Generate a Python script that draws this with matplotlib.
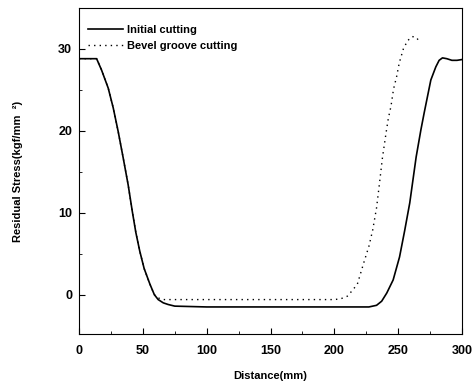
import matplotlib
matplotlib.use('Agg')
import matplotlib.pyplot as plt
from matplotlib.ticker import MultipleLocator

plt.rcParams['font.family'] = ['Liberation Sans', 'DejaVu Sans']
plt.rcParams['font.weight'] = 'bold'

# Initial cutting (solid)
init_x = [0, 5, 10, 13.8, 17.7, 22.9, 26.8, 30.7, 34.6, 38.5, 41.7, 44.5,
          47.6, 51, 55.5, 59, 62, 66, 69.8, 75, 100, 150, 200, 220, 227, 233,
          237, 241, 246, 251, 255, 259, 264, 267.7, 270.3, 272.9, 275.5, 279.4,
          282, 284.6, 288, 292, 296, 300]
init_y = [28.8, 28.8, 28.8, 28.8, 27.4, 25.2, 22.8, 19.9, 16.7, 13.4, 10.2,
          7.6, 5.3, 3.2, 1.3, 0.0, -0.6, -1.0, -1.2, -1.4, -1.5, -1.5, -1.5,
          -1.5, -1.5, -1.3, -0.8, 0.2, 1.8, 4.6, 7.8, 11.2, 16.8, 20.1, 22.2,
          24.2, 26.2, 27.8, 28.6, 28.9, 28.8, 28.6, 28.6, 28.7]

# Bevel groove cutting (dotted)
bevel_x = [0, 10, 13.8, 17.7, 22.9, 26.8, 30.7, 34.6, 38.5, 41.7, 44.5, 47.6,
           51, 55.5, 59, 62, 66, 70, 75, 100, 150, 200, 205, 210, 214, 218,
           223, 227, 230, 233, 235, 237.6, 240.5, 242.2, 244.3, 246.3, 248.7,
           250.8, 254, 257.3, 261, 264.2, 266.4]
bevel_y = [28.8, 28.8, 28.8, 27.4, 25.2, 22.8, 19.9, 16.7, 13.4, 10.2, 7.6,
           5.3, 3.2, 1.3, 0.0, -0.4, -0.6, -0.6, -0.6, -0.6, -0.6, -0.6, -0.5,
           -0.2, 0.5, 1.3, 3.9, 5.9, 7.9, 10.6, 13.2, 16.7, 19.8, 21.5, 23.0,
           25.1, 26.6, 28.3, 30.0, 31.0, 31.5, 31.4, 30.9]

fig = plt.figure(figsize=(4.73, 3.85), dpi=100)
ax = fig.add_axes([0.167, 0.1325, 0.81, 0.847])

ax.plot(init_x, init_y, color='black', lw=1.2, label='Initial cutting')
ax.plot(bevel_x, bevel_y, color='black', lw=1.0, linestyle=(0, (1, 3)),
        label='Bevel groove cutting')

ax.set_xlim(0, 300)
ax.set_ylim(-4.8, 35)
ax.xaxis.set_major_locator(MultipleLocator(50))
ax.xaxis.set_minor_locator(MultipleLocator(25))
ax.yaxis.set_major_locator(MultipleLocator(10))
ax.yaxis.set_minor_locator(MultipleLocator(5))
ax.tick_params(which='both', direction='in', top=False, right=False,
               labelsize=9)
ax.tick_params(which='major', length=4)
ax.tick_params(which='minor', length=2)
ax.tick_params(axis='x', pad=8)
ax.tick_params(axis='y', pad=5)
for lab in ax.get_xticklabels() + ax.get_yticklabels():
    lab.set_fontweight('bold')

ax.set_xlabel('Distance(mm)', fontsize=8, fontweight='bold', labelpad=10)
ax.set_ylabel('Residual Stress(kgf/mm  ²)', fontsize=8, fontweight='bold',
              labelpad=25)

ax.legend(loc='upper left', frameon=False, fontsize=8, handlelength=3.2,
          handletextpad=0.3, labelspacing=0.55, borderaxespad=0.4,
          bbox_to_anchor=(0.0, 0.975))

fig.savefig('out.png', dpi=100)
